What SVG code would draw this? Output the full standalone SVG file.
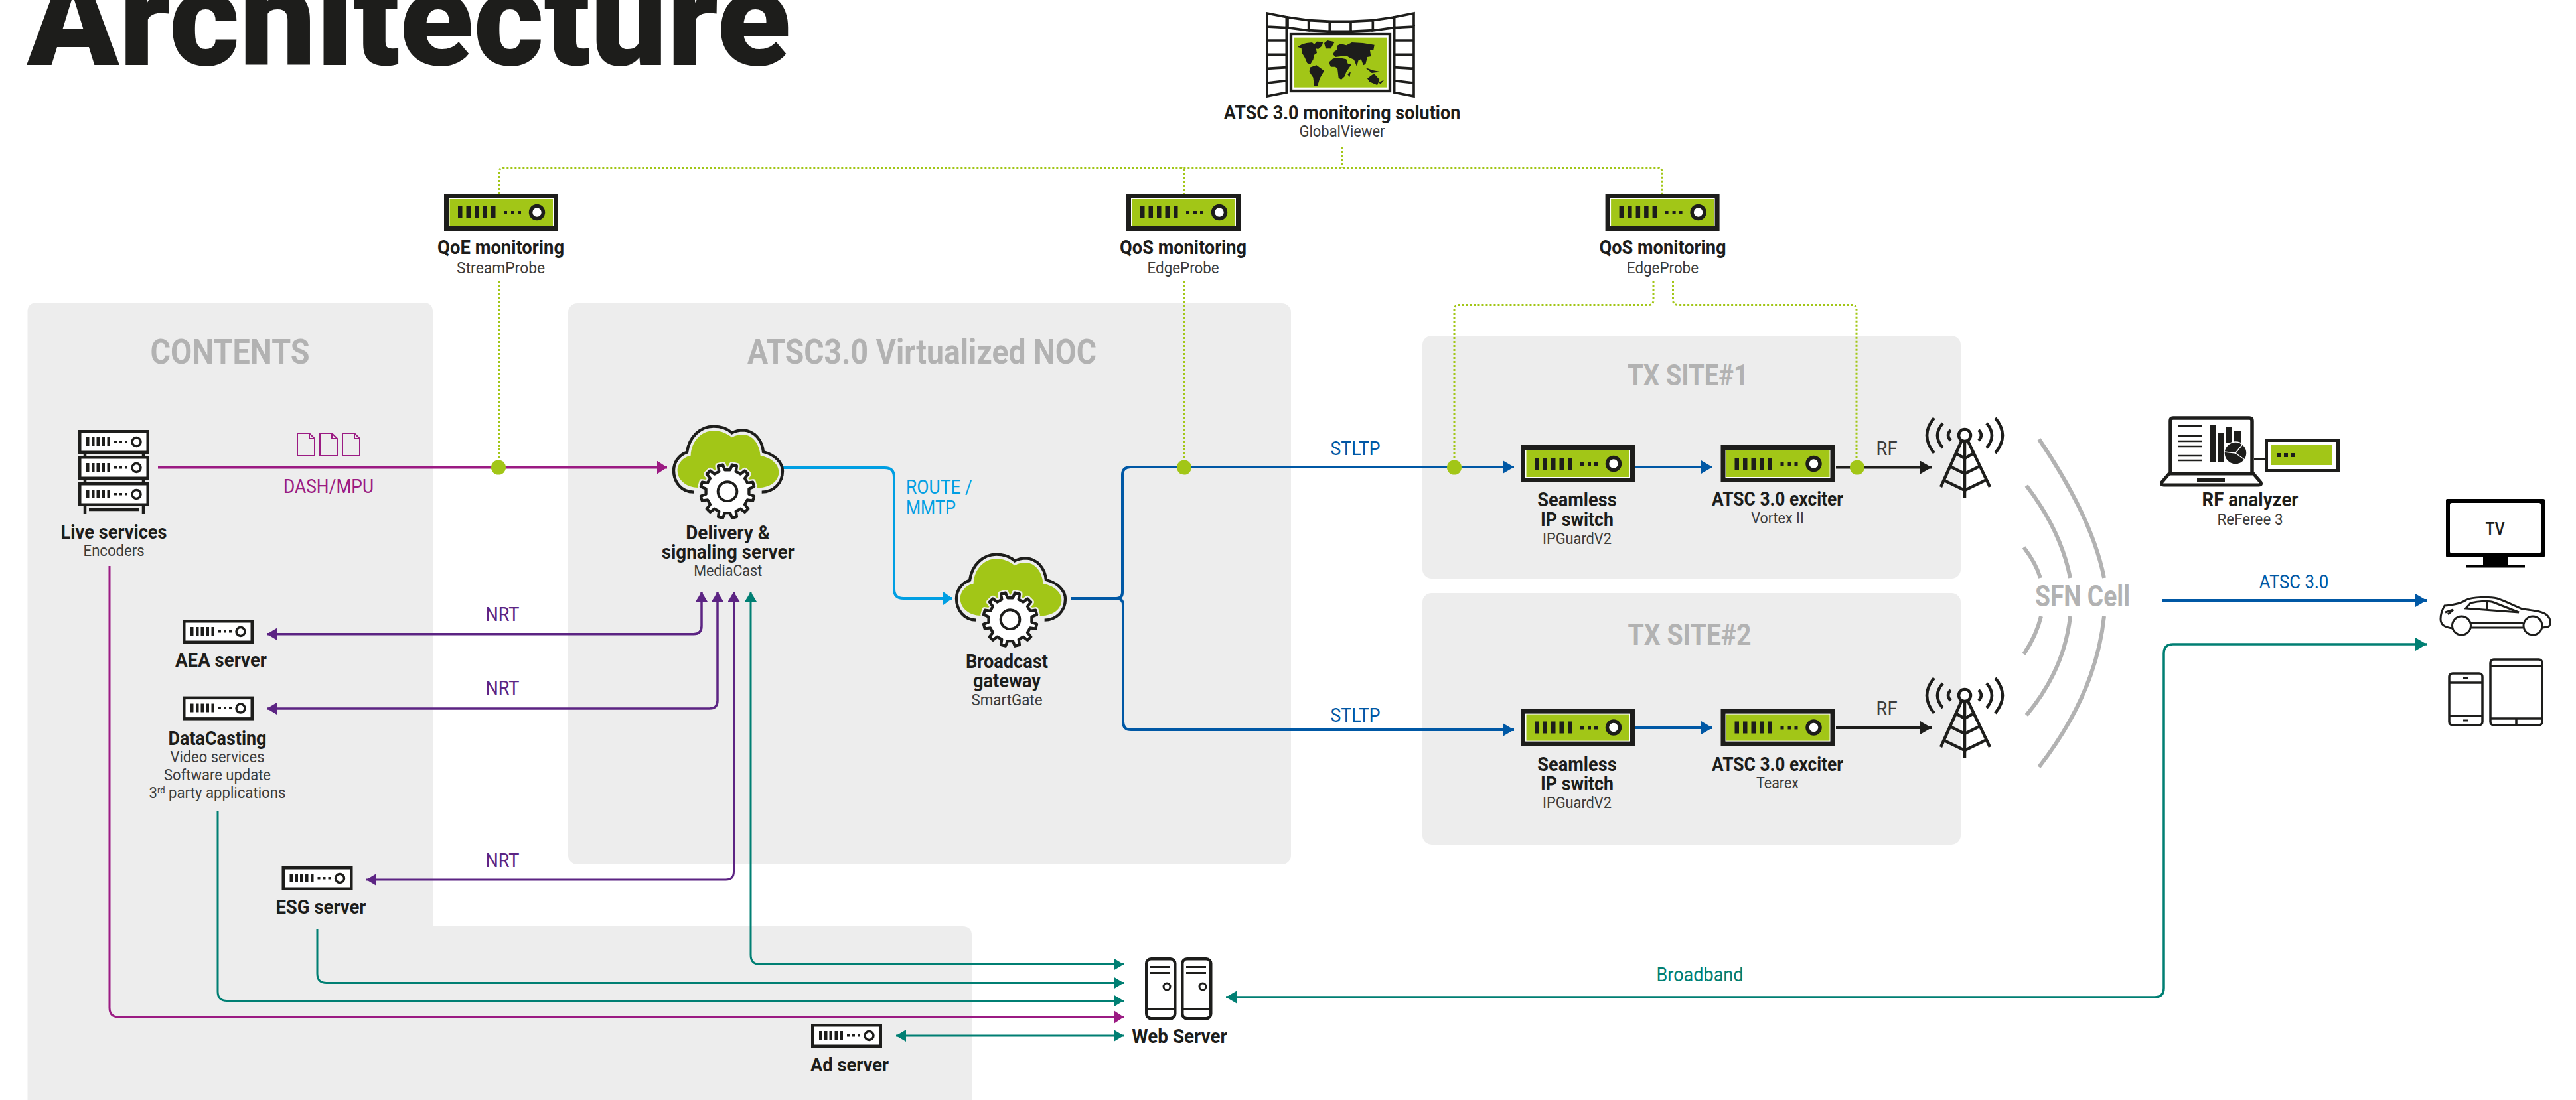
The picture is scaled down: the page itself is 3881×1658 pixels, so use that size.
<svg xmlns="http://www.w3.org/2000/svg" xmlns:xlink="http://www.w3.org/1999/xlink" width="3881" height="1658" viewBox="0 0 3881 1658">
<style>
text{font-family:Roboto,"Liberation Sans",sans-serif;text-anchor:middle;fill:#1d1d1b}
.b{font-weight:700;font-size:29px}
.s{font-weight:400;font-size:24px;fill:#3c3c3b}
.p{font-weight:700;font-size:52px;fill:#b2b2b2}
.tx{font-weight:700;font-size:45px;fill:#b2b2b2}
.l{font-weight:400;font-size:30px}
.panel{fill:#ededed}
.k{fill:none;stroke:#1d1d1b;stroke-width:4.5}
.c{fill:none;stroke-linejoin:round}
.mag{stroke:#9b1b83}.vio{stroke:#5c2483}.tea{stroke:#007f73}.blu{stroke:#0058a5}.cya{stroke:#009fe3}.blk{stroke:#1d1d1b}
.dot{fill:none;stroke:#a2c617;stroke-width:3;stroke-dasharray:3 3}
.sfn{fill:none;stroke:#b2b2b2;stroke-width:6}
.pt{fill:#a2c617}
</style>
<defs>
<marker id="am" markerUnits="userSpaceOnUse" markerWidth="17" markerHeight="20" refX="15" refY="10" orient="auto-start-reverse"><path d="M0 0L15 10L0 20Z" fill="#9b1b83"/></marker>
<marker id="av" markerUnits="userSpaceOnUse" markerWidth="17" markerHeight="20" refX="15" refY="9" orient="auto-start-reverse"><path d="M0 0L15 9L0 18Z" fill="#5c2483"/></marker>
<marker id="at" markerUnits="userSpaceOnUse" markerWidth="17" markerHeight="20" refX="15" refY="9" orient="auto-start-reverse"><path d="M0 0L15 9L0 18Z" fill="#007f73"/></marker>
<marker id="atb" markerUnits="userSpaceOnUse" markerWidth="18" markerHeight="22" refX="17" refY="10" orient="auto-start-reverse"><path d="M0 0L17 10L0 20Z" fill="#007f73"/></marker>
<marker id="ab" markerUnits="userSpaceOnUse" markerWidth="18" markerHeight="22" refX="17" refY="10" orient="auto-start-reverse"><path d="M0 0L17 10L0 20Z" fill="#0058a5"/></marker>
<marker id="ac" markerUnits="userSpaceOnUse" markerWidth="17" markerHeight="20" refX="14" refY="10" orient="auto-start-reverse"><path d="M0 0L14 10L0 20Z" fill="#009fe3"/></marker>
<marker id="ak" markerUnits="userSpaceOnUse" markerWidth="18" markerHeight="22" refX="17" refY="10" orient="auto-start-reverse"><path d="M0 0L17 10L0 20Z" fill="#1d1d1b"/></marker>
<g id="green">
<rect x="3.5" y="3.5" width="165" height="49" fill="#fff" stroke="#1d1d1b" stroke-width="7"/>
<rect x="8.5" y="8" width="155.5" height="40" fill="#a2c617"/>
<path d="M21 19h6.5v18H21zM33.5 19h6.5v18h-6.5zM46 19h6.5v18H46zM58.500 19h6.500v18h-6.500zM71 19h6.500v18H71z" fill="#1d1d1b"/>
<path d="M90 26h5v5h-5zM101 26h5v5h-5zM111 26h5v5h-5z" fill="#1d1d1b"/>
<circle cx="140" cy="28" r="9.500" fill="#fff" stroke="#1d1d1b" stroke-width="5.500"/>
</g>
<g id="white">
<rect x="2.250" y="2.250" width="102.500" height="31.500" fill="#fff" stroke="#1d1d1b" stroke-width="4.500"/>
<path d="M12 11h4.500v13H12zM20 11h4.500v13H20zM27.500 11h4.500v13h-4.500zM35.500 11h4.500v13h-4.500zM43.500 11h4.500v13h-4.500z" fill="#1d1d1b"/>
<path d="M54 16h4v3.500h-4zM62 16h4v3.500h-4zM70 16h4v3.500h-4z" fill="#1d1d1b"/>
<circle cx="87.500" cy="18" r="6.500" fill="#fff" stroke="#1d1d1b" stroke-width="3.500"/>
</g>
<g id="cloud">
<path d="M215 345C165 345 122 312 122 268C122 235 150 205 182 200C185 135 230 88 285 88C320 88 345 100 368 118C385 108 400 105 420 105C465 108 493 150 497 200C540 208 580 235 580 275C580 315 540 345 490 345Z" fill="#a2c617"/>
<path d="M195 365C140 365 105 320 105 268C105 230 128 198 165 185C175 115 225 68 285 68C320 68 350 80 368 97C385 88 400 85 420 85C470 88 505 130 510 183C560 195 597 230 597 270C597 325 555 365 503 365" fill="none" stroke="#1d1d1b" stroke-width="13"/>
<g transform="translate(348,362)">
<path d="M97.300 11.900L120.100 21.200L114.600 41.700L90.200 38.300L78.300 59L93.500 78.400L78.400 93.500L59 78.300L38.300 90.200L41.700 114.600L21.200 120.100L11.900 97.300L-11.900 97.300L-21.200 120.100L-41.700 114.600L-38.300 90.200L-59 78.300L-78.400 93.500L-93.500 78.400L-78.300 59L-90.200 38.300L-114.600 41.700L-120.100 21.200L-97.300 11.900L-97.300 -11.900L-120.100 -21.200L-114.600 -41.700L-90.200 -38.300L-78.300 -59L-93.500 -78.400L-78.400 -93.500L-59 -78.300L-38.300 -90.200L-41.700 -114.600L-21.200 -120.100L-11.900 -97.300L11.900 -97.300L21.200 -120.100L41.700 -114.600L38.300 -90.200L59 -78.300L78.400 -93.500L93.500 -78.400L78.300 -59L90.200 -38.300L114.600 -41.700L120.100 -21.200L97.300 -11.900Z" fill="#fff" stroke="#ededed" stroke-width="28" stroke-linejoin="round"/>
<path d="M97.300 11.900L120.100 21.200L114.600 41.700L90.200 38.300L78.300 59L93.500 78.400L78.400 93.500L59 78.300L38.300 90.200L41.700 114.600L21.200 120.100L11.900 97.300L-11.900 97.300L-21.200 120.100L-41.700 114.600L-38.300 90.200L-59 78.300L-78.400 93.500L-93.500 78.400L-78.300 59L-90.200 38.300L-114.600 41.700L-120.100 21.200L-97.300 11.900L-97.300 -11.900L-120.100 -21.200L-114.600 -41.700L-90.200 -38.300L-78.300 -59L-93.500 -78.400L-78.400 -93.500L-59 -78.300L-38.300 -90.200L-41.700 -114.600L-21.200 -120.100L-11.900 -97.300L11.900 -97.300L21.200 -120.100L41.700 -114.600L38.300 -90.200L59 -78.300L78.400 -93.500L93.500 -78.400L78.300 -59L90.200 -38.300L114.600 -41.700L120.100 -21.200L97.300 -11.900Z" fill="#fff" stroke="#1d1d1b" stroke-width="13" stroke-linejoin="round"/>
<circle r="43" fill="#fff" stroke="#1d1d1b" stroke-width="12"/>
</g>
</g>
<g id="tower" fill="none" stroke="#1d1d1b" stroke-linecap="butt">
<circle cx="2960" cy="656" r="9" stroke-width="4.500"/>
<path d="M2955 665L2924 734M2965 665L2998 734M2960 665V750" stroke-width="4.500"/>
<path d="M2948 684L2960 691L2972 684M2938 703L2960 714L2982 703M2929 724L2960 739L2991 724" stroke-width="4.500"/>
<path d="M2939 648Q2931 656 2939 664M2927 638Q2911 656 2927 675M2914 630Q2892 656 2914 683M2981 648Q2989 656 2981 664M2993 638Q3009 656 2993 675M3006 630Q3028 656 3006 683" stroke-width="4.500"/>
</g>
<g id="doc"><path d="M0 1H18L26 9V35H0Z" fill="none" stroke="#9b1b83" stroke-width="2"/><path d="M18 1V9H26" fill="none" stroke="#9b1b83" stroke-width="2"/></g>
<g id="tw"><rect x="2.250" y="2.250" width="43" height="90" rx="7" fill="none" stroke="#1d1d1b" stroke-width="4.500"/><path d="M8 14.500H38M8 23.500H38M2 78.500H46" fill="none" stroke="#1d1d1b" stroke-width="3"/><circle cx="33" cy="44" r="5" fill="none" stroke="#1d1d1b" stroke-width="3"/></g>
</defs>

<g id="panels">
<path class="panel" d="M56 456H638Q652 456 652 470V1396H1450Q1464 1396 1464 1410V1672H41.500V470Q41.500 456 56 456Z"/>
<rect class="panel" x="856" y="457" width="1089" height="846" rx="14"/>
<rect class="panel" x="2143" y="506" width="811" height="366" rx="14"/>
<rect class="panel" x="2143" y="894" width="811" height="379" rx="14"/>
<text class="p" x="346.500" y="548" textLength="240" lengthAdjust="spacingAndGlyphs">CONTENTS</text>
<text class="p" x="1389" y="548" textLength="526" lengthAdjust="spacingAndGlyphs">ATSC3.0 Virtualized NOC</text>
<text class="tx" x="2543" y="581" textLength="182" lengthAdjust="spacingAndGlyphs">TX SITE#1</text>
<text class="tx" x="2545.500" y="971.500" textLength="186" lengthAdjust="spacingAndGlyphs">TX SITE#2</text>
</g>

<text id="title" x="616" y="98" style="font-weight:900;font-size:205px" textLength="1151" lengthAdjust="spacingAndGlyphs">Architecture</text>

<g id="connectors">
<path class="dot" d="M752 292V259Q752 252.500 759 252.500H2497Q2504 252.500 2504 259V292"/>
<path class="dot" d="M1778 252.500Q1784 252.500 1784 259V292M2022 221V252.500M752 424V704M1784 424V704"/>
<path class="dot" d="M2491 424V452Q2491 459.500 2484 459.500H2198Q2191 459.500 2191 467V704"/>
<path class="dot" d="M2520.500 424V452Q2520.500 459.500 2528 459.500H2790Q2797 459.500 2797 467V704"/>
<path class="c mag" stroke-width="4" d="M238 704.600H1005" marker-end="url(#am)"/>
<path class="c cya" stroke-width="4" d="M1180 705H1333Q1347 705 1347 719V888Q1347 902 1361 902H1435" marker-end="url(#ac)"/>
<path class="c blu" stroke-width="4" d="M1613 902H1682Q1691 902 1691 893V716Q1691 704 1703 704H2281" marker-end="url(#ab)"/>
<path class="c blu" stroke-width="4" d="M1682 902Q1692 902 1692 912V1088Q1692 1100 1704 1100H2281" marker-end="url(#ab)"/>
<path class="c blu" stroke-width="4" d="M2463 704H2580" marker-end="url(#ab)"/>
<path class="c blu" stroke-width="4" d="M2463 1097H2580" marker-end="url(#ab)"/>
<path class="c blk" stroke-width="4" d="M2766 704.600H2910" marker-end="url(#ak)"/>
<path class="c blk" stroke-width="4" d="M2766 1097H2910" marker-end="url(#ak)"/>
<path class="c vio" stroke-width="3.500" d="M402 955.700H1045Q1057 955.700 1057 943.700V892" marker-start="url(#av)" marker-end="url(#av)"/>
<path class="c vio" stroke-width="3.500" d="M402 1068H1069Q1081 1068 1081 1056V892" marker-start="url(#av)" marker-end="url(#av)"/>
<path class="c vio" stroke-width="3" d="M552 1326H1093.500Q1105.500 1326 1105.500 1314V892" marker-start="url(#av)" marker-end="url(#av)"/>
<path class="c tea" stroke-width="3" d="M1693 1453.500H1145Q1131 1453.500 1131 1439.500V892" marker-start="url(#at)" marker-end="url(#at)"/>
<path class="c tea" stroke-width="3" d="M478 1400V1467.500Q478 1481.500 492 1481.500H1693" marker-end="url(#at)"/>
<path class="c tea" stroke-width="3" d="M328 1223V1494.500Q328 1508.500 342 1508.500H1693" marker-end="url(#at)"/>
<path class="c mag" stroke-width="3" d="M165 853V1519Q165 1533 179 1533H1693" marker-end="url(#am)"/>
<path class="c tea" stroke-width="3" d="M1350 1561H1693" marker-start="url(#at)" marker-end="url(#at)"/>
<path class="c tea" stroke-width="3.500" d="M1847 1503H3246Q3260 1503 3260 1489V985Q3260 971 3274 971H3656" marker-start="url(#atb)" marker-end="url(#atb)"/>
<path class="c blu" stroke-width="4" d="M3257 905H3656" marker-end="url(#ab)"/>
<circle class="pt" cx="751" cy="704.600" r="11"/>
<circle class="pt" cx="1784" cy="704.600" r="11"/>
<circle class="pt" cx="2191" cy="704.600" r="11"/>
<circle class="pt" cx="2798" cy="704.600" r="11"/>
<path class="sfn" d="M3072 662Q3152 780 3170 871M3053 732Q3105 800 3119 871M3049 825Q3067 848 3074 871M3170 929Q3158 1045 3072 1156M3119 929Q3110 1010 3053 1078M3075 929Q3068 958 3049 986"/>
<g id="docs"><use xlink:href="#doc" href="#doc" x="448" y="652"/><use xlink:href="#doc" href="#doc" x="482" y="652"/><use xlink:href="#doc" href="#doc" x="516" y="652"/></g>
<text class="l" x="495" y="742.700" textLength="136" lengthAdjust="spacingAndGlyphs" style="fill:#9b1b83">DASH/MPU</text>
<text class="l" x="757" y="935.600" textLength="51" lengthAdjust="spacingAndGlyphs" style="fill:#5c2483">NRT</text>
<text class="l" x="757" y="1046.500" textLength="51" lengthAdjust="spacingAndGlyphs" style="fill:#5c2483">NRT</text>
<text class="l" x="757" y="1307" textLength="51" lengthAdjust="spacingAndGlyphs" style="fill:#5c2483">NRT</text>
<text class="l" x="1365" y="744" textLength="100" lengthAdjust="spacingAndGlyphs" style="text-anchor:start;fill:#009fe3">ROUTE /</text>
<text class="l" x="1365" y="775" textLength="75" lengthAdjust="spacingAndGlyphs" style="text-anchor:start;fill:#009fe3">MMTP</text>
<text class="l" x="2042" y="686" textLength="75" lengthAdjust="spacingAndGlyphs" style="fill:#0058a5">STLTP</text>
<text class="l" x="2042" y="1087.600" textLength="75" lengthAdjust="spacingAndGlyphs" style="fill:#0058a5">STLTP</text>
<text class="l" x="2842.600" y="685.600" textLength="32" lengthAdjust="spacingAndGlyphs" style="fill:#3c3c3b">RF</text>
<text class="l" x="2842.600" y="1078" textLength="32" lengthAdjust="spacingAndGlyphs" style="fill:#3c3c3b">RF</text>
<text class="l" x="3456" y="887" textLength="104.600" lengthAdjust="spacingAndGlyphs" style="fill:#0058a5">ATSC 3.0</text>
<text class="l" x="2561" y="1479.400" textLength="131" lengthAdjust="spacingAndGlyphs" style="fill:#007f73">Broadband</text>
</g>

<g id="sfn-cell"><text x="3137.500" y="914" textLength="143" lengthAdjust="spacingAndGlyphs" style="font-weight:700;font-size:45px;fill:#b2b2b2">SFN Cell</text></g>

<g id="globalviewer">
<g transform="translate(1880,0) scale(.33333)" fill="#fff" stroke="#1d1d1b" stroke-width="11">
<path d="M180 78L275 92V138L180 125ZM275 92L370 97V142L275 137ZM370 97H465V142H370ZM465 97L565 92V137L465 142ZM565 92L660 78V125L565 138Z"/>
<path d="M87 60L175 77V125L87 120ZM87 120L175 125V183L87 183ZM87 183H175V247H87ZM87 247H175V305L87 310ZM87 310L175 305V365L87 375ZM87 375L175 365V418L87 435Z"/>
<path d="M750 60L662 77V125L750 120ZM750 120L662 125V183L750 183ZM750 183H662V247H750ZM750 247H662V305L750 310ZM750 310L662 305V365L750 375ZM750 375L662 365V418L750 435Z"/>
<rect x="195" y="153" width="447" height="258" stroke-width="13"/>
<rect x="210" y="170" width="417" height="225" fill="#a2c617" stroke="none"/>
<path stroke="none" fill="#1d1d1b" d="M225 212L245 200L265 195L290 192L300 200L312 188L340 190L335 208L318 222L308 220L312 240L298 250L296 268L282 292L268 285L258 262L245 240L242 218ZM345 195L360 183L392 190L375 220L352 220ZM280 305L310 295L345 320L325 355L315 388L300 388L295 350L278 325ZM366 282L385 265L415 262L445 268L452 288L468 292L445 325L438 345L422 360L410 352L405 310L395 302L375 302ZM385 245L392 232L405 225L402 208L420 198L445 205L470 192L520 195L572 203L568 225L552 228L556 255L540 258L532 290L522 295L512 268L500 272L492 300L480 270L462 262L445 252L420 255L395 258ZM530 305L565 318L600 325L560 330ZM540 355L570 332L595 360L585 385L550 370ZM450 335L465 325L460 348ZM590 372L615 362L600 380Z"/>
</g>
<text class="b" x="2022" y="180" textLength="356.500" lengthAdjust="spacingAndGlyphs">ATSC 3.0 monitoring solution</text>
<text class="s" x="2022" y="206" textLength="129" lengthAdjust="spacingAndGlyphs">GlobalViewer</text>
</g>

<g id="qoe"><use href="#green" x="669" y="292"/>
<text class="b" x="754.600" y="383" textLength="191" lengthAdjust="spacingAndGlyphs">QoE monitoring</text>
<text class="s" x="754.600" y="412" textLength="133" lengthAdjust="spacingAndGlyphs">StreamProbe</text></g>
<g id="qos1"><use href="#green" x="1697" y="292"/>
<text class="b" x="1782.600" y="383" textLength="191" lengthAdjust="spacingAndGlyphs">QoS monitoring</text>
<text class="s" x="1782.600" y="412" textLength="108" lengthAdjust="spacingAndGlyphs">EdgeProbe</text></g>
<g id="qos2"><use href="#green" x="2418.600" y="292"/>
<text class="b" x="2505" y="383" textLength="191" lengthAdjust="spacingAndGlyphs">QoS monitoring</text>
<text class="s" x="2505" y="412" textLength="108" lengthAdjust="spacingAndGlyphs">EdgeProbe</text></g>

<g id="live">
<use href="#white" x="118" y="648"/><use href="#white" x="118" y="687"/><use href="#white" x="118" y="727"/>
<path d="M128 682V687M216 682V687M128 722V727M216 722V727" class="k"/>
<path d="M128 762V774M216 762V774" class="k"/><path d="M134 768H210" class="k" stroke-width="4"/>
<text class="b" x="171.600" y="811.500" textLength="160" lengthAdjust="spacingAndGlyphs">Live services</text>
<text class="s" x="171.600" y="838" textLength="92" lengthAdjust="spacingAndGlyphs">Encoders</text></g>

<g id="delivery"><use href="#cloud" transform="translate(980,620) scale(.33333)"/>
<text class="b" x="1096.700" y="812.700" textLength="127" lengthAdjust="spacingAndGlyphs">Delivery &amp;</text>
<text class="b" x="1096.700" y="841.700" textLength="200" lengthAdjust="spacingAndGlyphs">signaling server</text>
<text class="s" x="1096.700" y="868" textLength="103" lengthAdjust="spacingAndGlyphs">MediaCast</text></g>

<g id="gateway"><use href="#cloud" transform="translate(1406,813) scale(.33333)"/>
<text class="b" x="1517" y="1007" textLength="124" lengthAdjust="spacingAndGlyphs">Broadcast</text>
<text class="b" x="1517" y="1036" textLength="102" lengthAdjust="spacingAndGlyphs">gateway</text>
<text class="s" x="1517" y="1063" textLength="107" lengthAdjust="spacingAndGlyphs">SmartGate</text></g>

<g id="aea"><use href="#white" x="275" y="934"/>
<text class="b" x="333" y="1005" textLength="138" lengthAdjust="spacingAndGlyphs">AEA server</text></g>
<g id="datacasting"><use href="#white" x="275" y="1049.600"/>
<text class="b" x="327.500" y="1123" textLength="148" lengthAdjust="spacingAndGlyphs">DataCasting</text>
<text class="s" x="327.500" y="1149.400" textLength="142" lengthAdjust="spacingAndGlyphs">Video services</text>
<text class="s" x="327.500" y="1176" textLength="161" lengthAdjust="spacingAndGlyphs">Software update</text>
<text class="s" x="327.500" y="1203" textLength="206" lengthAdjust="spacingAndGlyphs">3<tspan dy="-7" font-size="14">rd</tspan><tspan dy="7"> party applications</tspan></text></g>
<g id="esg"><use href="#white" x="424.500" y="1306"/>
<text class="b" x="483.400" y="1377" textLength="136" lengthAdjust="spacingAndGlyphs">ESG server</text></g>
<g id="ad"><use href="#white" x="1222" y="1543"/>
<text class="b" x="1280" y="1614.600" textLength="118" lengthAdjust="spacingAndGlyphs">Ad server</text></g>

<g id="webserver"><use href="#tw" x="1725" y="1443"/><use href="#tw" x="1779" y="1443"/>
<text class="b" x="1777" y="1572" textLength="143.500" lengthAdjust="spacingAndGlyphs">Web Server</text></g>

<g id="seamless1"><use href="#green" x="2291" y="671"/>
<text class="b" x="2376" y="763" textLength="119.400" lengthAdjust="spacingAndGlyphs">Seamless</text>
<text class="b" x="2376" y="792.500" textLength="110" lengthAdjust="spacingAndGlyphs">IP switch</text>
<text class="s" x="2376" y="819.500" textLength="104" lengthAdjust="spacingAndGlyphs">IPGuardV2</text></g>
<g id="exciter1"><use href="#green" x="2592.500" y="671"/>
<text class="b" x="2678" y="762" textLength="198" lengthAdjust="spacingAndGlyphs">ATSC 3.0 exciter</text>
<text class="s" x="2678" y="789" textLength="79.500" lengthAdjust="spacingAndGlyphs">Vortex II</text></g>
<g id="seamless2"><use href="#green" x="2291" y="1068.600"/>
<text class="b" x="2376" y="1161.600" textLength="119.400" lengthAdjust="spacingAndGlyphs">Seamless</text>
<text class="b" x="2376" y="1190.600" textLength="110" lengthAdjust="spacingAndGlyphs">IP switch</text>
<text class="s" x="2376" y="1218" textLength="104" lengthAdjust="spacingAndGlyphs">IPGuardV2</text></g>
<g id="exciter2"><use href="#green" x="2592.500" y="1068.600"/>
<text class="b" x="2678" y="1161.500" textLength="198" lengthAdjust="spacingAndGlyphs">ATSC 3.0 exciter</text>
<text class="s" x="2678" y="1187.500" textLength="64" lengthAdjust="spacingAndGlyphs">Tearex</text></g>

<g id="tower1"><use href="#tower"/></g>
<g id="tower2"><use href="#tower" y="392"/></g>

<g id="rf-analyzer">
<path d="M3270 713V634Q3270 630 3274 630H3389Q3393 630 3393 634V713" fill="#fff" stroke="#1d1d1b" stroke-width="5.500"/>
<path d="M3268 714H3395L3406 727Q3408 731 3403 731H3260Q3255 731 3257 727Z" fill="#fff" stroke="#1d1d1b" stroke-width="5"/>
<rect x="3310" y="721" width="42" height="6" fill="#1d1d1b"/>
<path d="M3281 642H3318M3281 657H3318M3281 665H3318M3281 673H3318M3281 687H3318M3281 694H3318" stroke="#1d1d1b" stroke-width="2.500"/>
<path d="M3329 641h10v55h-10zM3341 653h10v43h-10zM3353 644h10v23h-10zM3366 650h10v17h-10z" fill="#1d1d1b"/>
<circle cx="3368" cy="683" r="17" fill="#1d1d1b" stroke="#fff" stroke-width="1.500"/>
<path d="M3368 683L3380 668M3368 683L3351 681M3368 683L3382 693" stroke="#fff" stroke-width="1.500"/>
<path d="M3396 692H3412" stroke="#1d1d1b" stroke-width="4"/>
<rect x="3414.500" y="663.500" width="108" height="46" fill="#fff" stroke="#1d1d1b" stroke-width="5"/>
<rect x="3422" y="671" width="92" height="30" fill="#a2c617"/>
<path d="M3430 683h6v6h-6zM3441 683h6v6h-6zM3452 683h6v6h-6z" fill="#1d1d1b"/>
<text class="b" x="3390" y="763" textLength="145" lengthAdjust="spacingAndGlyphs">RF analyzer</text>
<text class="s" x="3390" y="791" textLength="99" lengthAdjust="spacingAndGlyphs">ReFeree 3</text></g>

<g id="tv">
<rect x="3685" y="752" width="149" height="88" rx="2" fill="#000"/>
<rect x="3691" y="758" width="137" height="76" rx="3" fill="#fff"/>
<rect x="3741" y="840" width="37" height="13" fill="#000"/>
<rect x="3715" y="852" width="89" height="3.500" fill="#000"/>
<text x="3759" y="807" textLength="29" lengthAdjust="spacingAndGlyphs" style="font-weight:500;font-size:27px">TV</text></g>

<g id="car" fill="none" stroke="#1d1d1b" stroke-width="3">
<path d="M3694 947C3683 945 3677 942 3677 933C3677 925 3680 918 3683 913C3695 912 3708 910 3716 904C3725 900 3750 899 3762 902C3775 906 3790 914 3800 918C3815 920 3830 921 3837 927C3845 934 3843 944 3838 945L3830 946"/>
<path d="M3723 939H3801M3723 946H3801M3715 917L3722 909C3735 906 3750 905 3757 908L3795 923ZM3746.600 906V920M3684 923L3696 919L3688 926"/>
<circle cx="3708.500" cy="943" r="14"/><circle cx="3816" cy="943" r="14"/></g>

<g id="mobile" fill="none" stroke="#1d1d1b" stroke-width="3.500">
<rect x="3690" y="1015" width="50" height="78" rx="5"/>
<path d="M3690 1029H3740M3690 1079H3740"/>
<path d="M3711 1022H3718M3711 1086H3718" stroke-width="3"/>
<rect x="3752" y="994" width="78" height="99" rx="5"/>
<path d="M3752 1004H3830M3752 1083H3830M3791 1083V1093"/></g>
</svg>
